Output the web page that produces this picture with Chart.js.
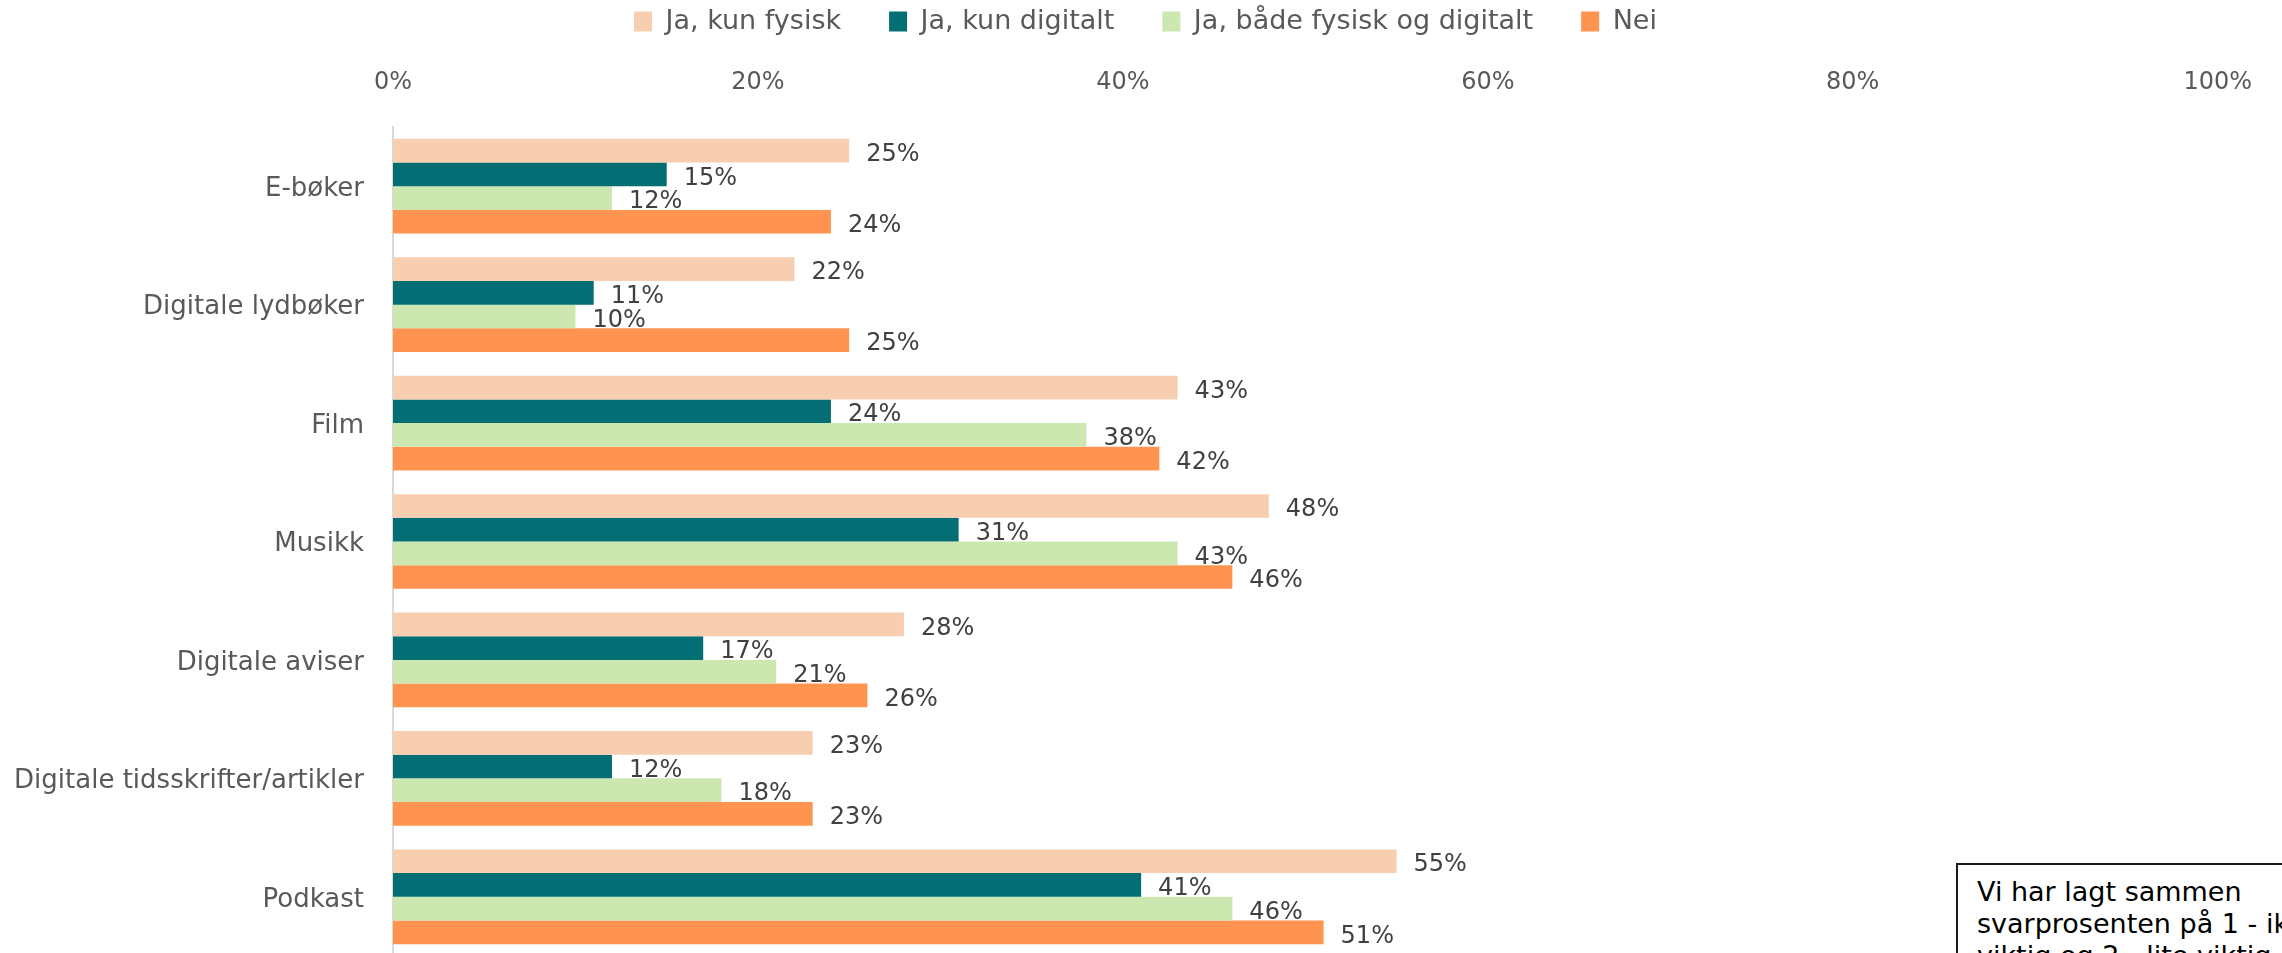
<!DOCTYPE html>
<html>
<head>
<meta charset="utf-8">
<script src="https://cdn.jsdelivr.net/npm/chart.js@4"></script>
<style>
  html, body { margin: 0; padding: 0; background: #ffffff; overflow: hidden; width: 2282px; height: 953px; }
  #wrap { position: relative; width: 2282px; height: 953px; overflow: hidden; }
  canvas { position: absolute; left: 0; top: -40px; }
  #note {
    position: absolute; left: 1956px; top: 863px; width: 420px; height: 200px;
    border: 2px solid #1a1a1a; box-sizing: border-box; background: #ffffff;
    padding: 11px 0 0 19px; white-space: nowrap;
    font-family: "DejaVu Sans", sans-serif; font-size: 27px; line-height: 32px; color: #000000;
  }
</style>
</head>
<body>
<div id="wrap">
  <canvas id="c" width="2282" height="996"></canvas>
  <div id="note">Vi har lagt sammen<br>svarprosenten på 1 - ikke<br>viktig og 2 - lite viktig</div>
</div>
<script>
const categories = ["E-bøker", "Digitale lydbøker", "Film", "Musikk", "Digitale aviser", "Digitale tidsskrifter/artikler", "Podkast"];
const seriesNames = ["Ja, kun fysisk", "Ja, kun digitalt", "Ja, både fysisk og digitalt", "Nei"];
const kunFysisk   = [25, 22, 43, 48, 28, 23, 55];
const kunDigitalt = [15, 11, 24, 31, 17, 12, 41];
const begge       = [12, 10, 38, 43, 21, 18, 46];
const nei         = [24, 25, 42, 46, 26, 23, 51];
const xTickValues = [0, 20, 40, 60, 80, 100];

const colors = ["#F7CFB0", "#036E73", "#CDE7B0", "#FF9450"];
const FONT = "'DejaVu Sans', sans-serif";

const dataLabels = {
  id: 'dataLabels',
  afterDatasetsDraw(chart) {
    const ctx = chart.ctx;
    ctx.save();
    ctx.font = "24px " + FONT;
    ctx.fillStyle = "#404040";
    ctx.textAlign = "left";
    ctx.textBaseline = "middle";
    chart.data.datasets.forEach((ds, di) => {
      const meta = chart.getDatasetMeta(di);
      meta.data.forEach((el, i) => {
        ctx.fillText(ds.data[i] + "%", el.x + 17, el.y + 4);
      });
    });
    ctx.restore();
  }
};

const legendShift = {
  id: 'legendShift',
  afterLayout(chart) {
    if (chart.legend) { chart.legend.left = 68; }
  }
};

new Chart(document.getElementById('c'), {
  type: 'bar',
  data: {
    labels: categories,
    datasets: [
      { label: seriesNames[0], data: kunFysisk,   backgroundColor: colors[0] },
      { label: seriesNames[1], data: kunDigitalt, backgroundColor: colors[1] },
      { label: seriesNames[2], data: begge,       backgroundColor: colors[2] },
      { label: seriesNames[3], data: nei,         backgroundColor: colors[3] }
    ]
  },
  options: {
    indexAxis: 'y',
    responsive: false,
    animation: false,
    devicePixelRatio: 1,
    datasets: { bar: { barPercentage: 1.0, categoryPercentage: 0.8, borderWidth: 0 } },
    layout: { padding: { top: 0, left: 0, right: 59, bottom: 0 } },
    plugins: {
      tooltip: { enabled: false },
      legend: {
        position: 'top',
        align: 'center',
        labels: {
          boxWidth: 18, boxHeight: 20, padding: 48,
          color: "#595959",
          font: { family: FONT, size: 27 }
        }
      }
    },
    scales: {
      x: {
        position: 'top',
        min: 0, max: 100,
        afterBuildTicks(scale) { scale.ticks = xTickValues.map(v => ({ value: v })); },
        afterFit(scale) { scale.height = 82; },
        grid: { display: false, drawTicks: false },
        border: { display: false },
        ticks: {
          padding: 30,
          color: "#595959",
          font: { family: FONT, size: 24 },
          callback: (v) => v + "%"
        }
      },
      y: {
        afterFit(scale) {
          scale.width = 393;
          scale.paddingTop = 0;
          scale.paddingBottom = 0;
        },
        grid: { display: false, drawTicks: false },
        border: { display: true, color: "#d9d9d9", width: 2 },
        ticks: {
          padding: 29,
          labelOffset: 3,
          color: "#595959",
          font: { family: FONT, size: 26 }
        }
      }
    }
  },
  plugins: [dataLabels, legendShift]
});
</script>
</body>
</html>
